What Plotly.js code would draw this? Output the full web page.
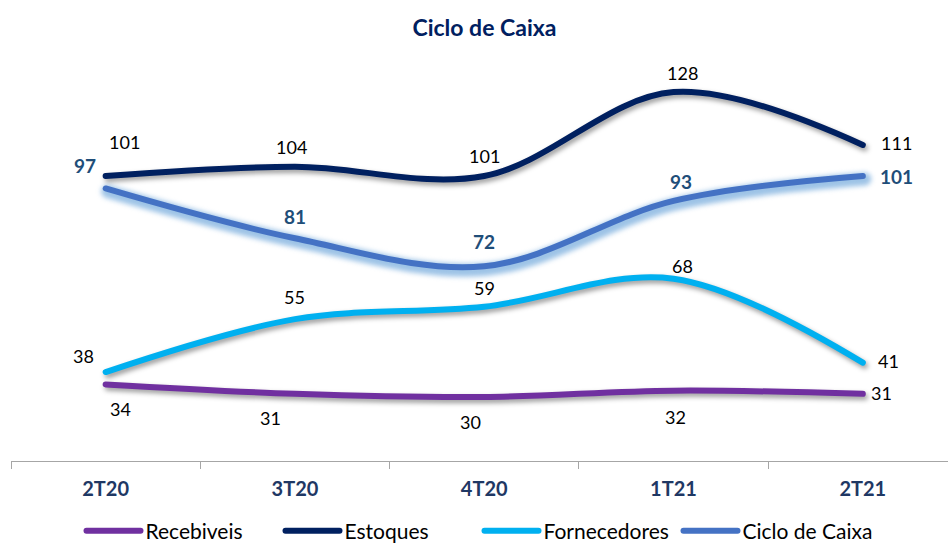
<!DOCTYPE html>
<html>
<head>
<meta charset="utf-8">
<script src="https://cdn.plot.ly/plotly-3.0.1.min.js"></script>
<style>
  html, body { margin: 0; padding: 0; background: #fff; }
  #chart { width: 948px; height: 544px; }
  .js-line { stroke-linecap: round; stroke-linejoin: round; }
  .overplot > .xy .scatterlayer { filter: blur(2.5px); }
</style>
</head>
<body>
<div id="chart"></div>
<script>
// ---- data ----
const categories = ['2T20', '3T20', '4T20', '1T21', '2T21'];
const recebiveis = [34, 31, 30, 32, 31];
const estoques = [101, 104, 101, 128, 111];
const fornecedores = [38, 55, 59, 68, 41];
const cicloCaixa = [97, 81, 72, 93, 101];
const seriesNames = ['Recebiveis', 'Estoques', 'Fornecedores', 'Ciclo de Caixa'];

// ---- styles ----
const colors = ['#7030A0', '#002060', '#00B0F0', '#4472C4'];
const labelShift = [
  [[15, -25], [-24, -24], [-14, -25], [2, -26], [19, 1]],
  [[19, 34], [-3, 20], [0, 20], [9, 19], [34, 2]],
  [[-22, 16], [0, 22], [0, 19], [9, 13], [26, 2]],
  [[-21, 23], [0, 22], [0, 25], [7, 19], [34, 0]]
];
const FONT = 'Lato, "Open Sans", sans-serif';
const allSeries = [recebiveis, estoques, fornecedores, cicloCaixa];

const xRange = [-0.5, 4.45];
const yRange = [9.4, 138.3];
const pxX = 937 / (xRange[1] - xRange[0]);
const pxY = 401 / (yRange[1] - yRange[0]);
const shadowDx = 2, shadowDy = 3;

const traces = [];
// shadows / glow on base axes (drawn below)
allSeries.forEach((vals, i) => {
  const isCiclo = i === 3;
  traces.push({
    x: categories, y: vals, xaxis: 'x', yaxis: 'y',
    type: 'scatter', mode: 'lines', hoverinfo: 'skip', showlegend: false,
    line: {
      shape: 'spline', smoothing: 1,
      width: isCiclo ? 13 : 6,
      color: isCiclo ? 'rgba(91,155,213,0.6)' : 'rgba(0,0,0,0.4)'
    }
  });
});
// main lines on overlay axes
allSeries.forEach((vals, i) => {
  traces.push({
    x: categories, y: vals, xaxis: 'x2', yaxis: 'y2',
    name: seriesNames[i],
    type: 'scatter', mode: 'lines',
    line: { shape: 'spline', smoothing: 1, width: 6, color: colors[i] }
  });
});

const annotations = [];
allSeries.forEach((vals, i) => {
  vals.forEach((v, j) => {
    annotations.push({
      x: categories[j], y: v, xref: 'x2', yref: 'y2',
      text: String(v), showarrow: false,
      xshift: labelShift[i][j][0], yshift: labelShift[i][j][1],
      font: i === 3
        ? { family: FONT, size: 19, color: '#1F4E79', weight: 'bold' }
        : { family: FONT, size: 18, color: '#000000' }
    });
  });
});

const layout = {
  width: 948, height: 544,
  margin: { l: 11, r: 0, t: 60, b: 83 },
  paper_bgcolor: '#ffffff', plot_bgcolor: '#ffffff',
  title: {
    text: '<b>Ciclo de Caixa</b>',
    x: 0.511, xanchor: 'center', y: 0.9485, yanchor: 'middle',
    font: { family: FONT, size: 23, color: '#002060' }
  },
  xaxis: {
    type: 'category',
    range: [xRange[0] - shadowDx / pxX, xRange[1] - shadowDx / pxX],
    visible: false, fixedrange: true
  },
  yaxis: {
    range: [yRange[0] + shadowDy / pxY, yRange[1] + shadowDy / pxY],
    visible: false, fixedrange: true
  },
  xaxis2: {
    type: 'category', overlaying: 'x', side: 'bottom', anchor: 'y2',
    range: xRange,
    showline: true, linecolor: '#A6A6A6', linewidth: 1,
    ticks: 'outside', tickson: 'boundaries', ticklen: 7, tickcolor: '#A6A6A6',
    showgrid: false, zeroline: false,
    ticklabelstandoff: 10,
    tickfont: { family: FONT, size: 20, color: '#1F3864', weight: 'bold' }
  },
  yaxis2: {
    overlaying: 'y', range: yRange, visible: false, fixedrange: true
  },
  showlegend: true,
  legend: {
    orientation: 'h', xref: 'paper', x: 0.5, xanchor: 'center',
    yref: 'container', y: 13 / 544, yanchor: 'middle',
    font: { family: FONT, size: 21, color: '#000000' },
    itemwidth: 54, entrywidth: 130, entrywidthmode: 'pixels'
  },
  annotations: annotations
};

Plotly.newPlot('chart', traces, layout, { displayModeBar: false, staticPlot: true });
</script>
</body>
</html>
